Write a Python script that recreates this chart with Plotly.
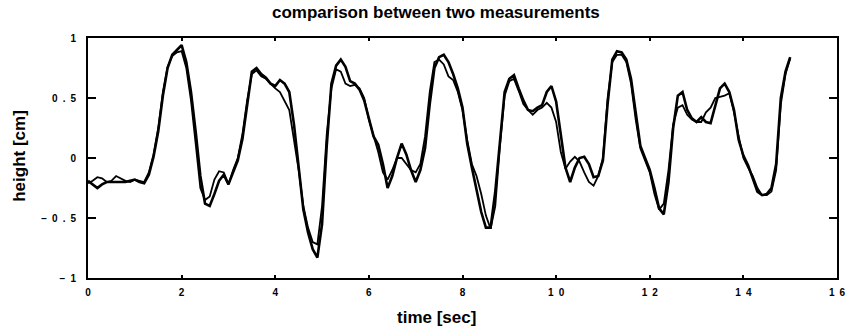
import numpy as np
import plotly.graph_objects as go

# sample times [sec]
time_sec = np.round(np.arange(0, 15.05, 0.1), 1)

# measurement 1 (heavier trace) [cm]
height_1 = [
    -0.19, -0.22, -0.25, -0.22, -0.20, -0.20, -0.20, -0.20, -0.20, -0.19,
    -0.18, -0.20, -0.21, -0.14, 0.01, 0.22, 0.52, 0.75, 0.86, 0.90,
    0.94, 0.80, 0.55, 0.22, -0.15, -0.38, -0.40, -0.30, -0.19, -0.14,
    -0.22, -0.12, -0.02, 0.16, 0.45, 0.72, 0.75, 0.70, 0.67, 0.62,
    0.60, 0.65, 0.62, 0.55, 0.28, -0.05, -0.43, -0.62, -0.76, -0.83,
    -0.55, 0.10, 0.62, 0.77, 0.82, 0.76, 0.64, 0.62, 0.57, 0.48,
    0.32, 0.18, 0.11, -0.05, -0.25, -0.15, 0.00, 0.12, 0.03, -0.10,
    -0.20, -0.10, 0.08, 0.45, 0.75, 0.84, 0.86, 0.80, 0.70, 0.58,
    0.42, 0.12, -0.08, -0.28, -0.45, -0.58, -0.58, -0.28, 0.15, 0.55,
    0.66, 0.69, 0.58, 0.48, 0.40, 0.39, 0.42, 0.44, 0.55, 0.60,
    0.47, 0.18, -0.08, -0.20, -0.08, 0.00, 0.01, -0.05, -0.16, -0.15,
    -0.02, 0.45, 0.82, 0.89, 0.88, 0.82, 0.66, 0.38, 0.10, 0.00,
    -0.10, -0.25, -0.42, -0.47, -0.20, 0.25, 0.52, 0.55, 0.40, 0.33,
    0.30, 0.34, 0.30, 0.29, 0.44, 0.58, 0.62, 0.55, 0.40, 0.15,
    0.02, -0.06, -0.17, -0.28, -0.31, -0.30, -0.25, -0.05, 0.50, 0.72,
    0.84,
]

# measurement 2 (lighter trace) [cm]
height_2 = [
    -0.21, -0.19, -0.16, -0.17, -0.20, -0.19, -0.15, -0.17, -0.19, -0.20,
    -0.18, -0.19, -0.20, -0.12, 0.03, 0.25, 0.55, 0.76, 0.85, 0.88,
    0.89, 0.75, 0.48, 0.12, -0.25, -0.35, -0.32, -0.18, -0.11, -0.12,
    -0.22, -0.10, 0.00, 0.20, 0.48, 0.70, 0.73, 0.68, 0.66, 0.62,
    0.58, 0.55, 0.48, 0.40, 0.15, -0.10, -0.40, -0.58, -0.70, -0.72,
    -0.40, 0.20, 0.58, 0.74, 0.72, 0.62, 0.60, 0.61, 0.58, 0.50,
    0.32, 0.18, 0.05, -0.12, -0.18, -0.10, 0.00, 0.00, -0.05, -0.10,
    -0.12, -0.05, 0.18, 0.55, 0.80, 0.82, 0.78, 0.68, 0.65, 0.55,
    0.40, 0.15, -0.05, -0.15, -0.30, -0.48, -0.59, -0.40, 0.10, 0.52,
    0.64, 0.66, 0.56, 0.45, 0.40, 0.36, 0.40, 0.42, 0.46, 0.42,
    0.30, 0.05, -0.09, -0.03, 0.01, -0.03, -0.12, -0.20, -0.23, -0.15,
    0.00, 0.50, 0.80, 0.86, 0.86, 0.80, 0.62, 0.32, 0.08, -0.02,
    -0.12, -0.30, -0.43, -0.38, -0.10, 0.28, 0.42, 0.44, 0.36, 0.32,
    0.30, 0.30, 0.38, 0.42, 0.50, 0.51, 0.52, 0.54, 0.38, 0.18,
    0.00, -0.08, -0.15, -0.25, -0.31, -0.31, -0.28, -0.10, 0.45, 0.70,
    0.83,
]

x_tick_vals = [0, 2, 4, 6, 8, 10, 12, 14, 16]
x_tick_text = ["0", "2", "4", "6", "8", "1\u20020", "1\u20022", "1\u20024", "1\u20026"]
y_tick_vals = [-1, -0.5, 0, 0.5, 1]
y_tick_text = ["\u2212\u20021", "\u2212\u20020\u2002.\u20025", "0", "0\u2002.\u20025", "1"]

title_text = "comparison between two measurements"
x_label = "time [sec]"
y_label = "height [cm]"

FONT = "Liberation Sans, Arial, Helvetica, sans-serif"

fig = go.Figure()
fig.add_trace(go.Scatter(x=time_sec, y=height_2, mode="lines",
                         line=dict(color="black", width=1.8), showlegend=False))
fig.add_trace(go.Scatter(x=time_sec, y=height_1, mode="lines",
                         line=dict(color="black", width=2.6), showlegend=False))

axis_common = dict(showgrid=False, zeroline=False, showline=True, linecolor="black",
                   linewidth=2, mirror="ticks", ticks="inside", tickcolor="black",
                   tickwidth=1.5,
                   tickfont=dict(family=FONT, size=10, color="black", weight="bold"))

fig.update_xaxes(range=[0, 16], tickvals=x_tick_vals, ticktext=x_tick_text,
                 ticklen=3, ticklabelstandoff=4, **axis_common)
fig.update_yaxes(range=[-1, 1], tickvals=y_tick_vals, ticktext=y_tick_text,
                 ticklen=8, ticklabelstandoff=8, **axis_common)

fig.update_layout(
    width=853, height=328,
    margin=dict(l=88, r=8, t=38, b=50),
    paper_bgcolor="white", plot_bgcolor="white",
    font=dict(family=FONT, color="black"),
    annotations=[
        dict(text=title_text, xref="paper", yref="paper", x=0.465, y=1 + 25.0 / 240,
             xanchor="center", yanchor="middle", showarrow=False,
             font=dict(family=FONT, size=17, color="black", weight="bold")),
        dict(text=x_label, xref="paper", yref="paper", x=0.465, y=-39.0 / 240,
             xanchor="center", yanchor="middle", showarrow=False,
             font=dict(family=FONT, size=17, color="black", weight="bold")),
        dict(text=y_label, xref="paper", yref="paper", x=-70.0 / 757, y=0.508,
             xanchor="center", yanchor="middle", textangle=-90, showarrow=False,
             font=dict(family=FONT, size=17, color="black", weight="bold")),
    ],
)

fig.write_html("out.html")
